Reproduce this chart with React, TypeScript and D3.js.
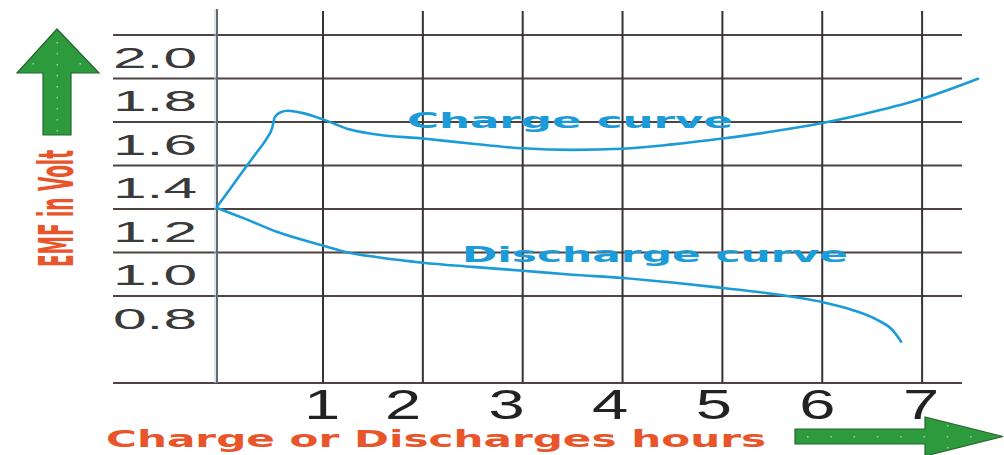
import React from 'react';
import * as d3 from 'd3';

// ---- data ----
const hourTicks = [1, 2, 3, 4, 5, 6, 7];
const gridHours = [0, 1, 2, 3, 4, 5, 6, 7];
const voltLabels = ['2.0', '1.8', '1.6', '1.4', '1.2', '1.0', '0.8'];
const voltLabelValues = [2.0, 1.8, 1.6, 1.4, 1.2, 1.0, 0.8];
const gridVolts = [2.1, 1.9, 1.7, 1.5, 1.3, 1.1, 0.9, 0.5];

const chargeHours = [0, 0.12, 0.24, 0.36, 0.47, 0.52, 0.545, 0.6, 0.67, 0.8, 1.0, 1.25, 1.5, 2.0, 2.5, 3.0, 3.5, 4.0, 4.5, 5.0, 5.5, 6.0, 6.5, 7.0, 7.56];
const chargeVolts = [1.31, 1.39, 1.471, 1.551, 1.625, 1.672, 1.722, 1.745, 1.752, 1.742, 1.712, 1.668, 1.645, 1.624, 1.6, 1.579, 1.572, 1.577, 1.597, 1.624, 1.656, 1.695, 1.746, 1.807, 1.899];

const dischargeHours = [0, 0.25, 0.57, 1.0, 1.25, 1.55, 2.0, 2.5, 3.0, 3.5, 4.0, 4.5, 5.0, 5.45, 6.0, 6.3, 6.55, 6.7, 6.79];
const dischargeVolts = [1.305, 1.258, 1.194, 1.132, 1.1, 1.078, 1.053, 1.034, 1.016, 0.998, 0.983, 0.962, 0.937, 0.913, 0.872, 0.836, 0.79, 0.745, 0.69];

const xTitle = 'Charge or Discharges hours';
const yTitle = 'EMF in Volt';
const chargeLabel = 'Charge curve';
const dischargeLabel = 'Discharge curve';

const BLUE = '#1b9bd8';
const ORANGE = '#e9552b';
const GREEN = '#2d9a3d';
const GREEN_DARK = '#25662e';
const GRID = '#4d4443';

export default function App() {
  const x = d3.scaleLinear().domain([0, 1, 7.6]).range([217, 323, 982]);
  const y = d3.scaleLinear().domain([0.5, 2.1]).range([383, 35]);
  const labelX = d3.scaleLinear().domain([1, 2, 7]).range([322, 403, 921]);

  const line = d3
    .line<[number, number]>()
    .x((d) => x(d[0]))
    .y((d) => y(d[1]))
    .curve(d3.curveMonotoneX);

  const charge = chargeHours.map((h, i) => [h, chargeVolts[i]] as [number, number]);
  const discharge = dischargeHours.map((h, i) => [h, dischargeVolts[i]] as [number, number]);

  const gridLeft = 113;
  const gridRight = 962;

  const upDots = d3.range(42, 132, 11);
  const rightDots = d3.range(807, 980, 23.3);

  return (
    <svg
      width={1004}
      height={455}
      style={{ position: 'absolute', left: 0, top: 0, background: '#fff' }}
    >
      <rect x={0} y={0} width={1004} height={455} fill="#fff" />
      {gridVolts.map((v) => (
        <line
          key={'h' + v}
          x1={gridLeft}
          x2={gridRight}
          y1={y(v)}
          y2={y(v)}
          stroke={GRID}
          strokeWidth={1.8}
        />
      ))}
      {gridHours.map((h) => (
        <line
          key={'v' + h}
          x1={x(h)}
          x2={x(h)}
          y1={h === 0 ? 9 : 11}
          y2={y(0.5)}
          stroke={h === 0 ? '#6d6868' : '#363333'}
          strokeWidth={2}
        />
      ))}
      <line x1={x(0) - 2} x2={x(0) - 2} y1={9} y2={y(0.5)} stroke="#a9cde3" strokeWidth={1} />

      {voltLabels.map((t, i) => (
        <text
          key={t}
          x={gridLeft}
          y={y(voltLabelValues[i]) + 11}
          fontFamily="'Liberation Sans', Arial, sans-serif"
          fontSize={29}
          fill="#3a3a3a"
          textLength={84}
          lengthAdjust="spacingAndGlyphs"
        >
          {t}
        </text>
      ))}

      {hourTicks.map((h) => (
        <text
          key={'x' + h}
          transform={`translate(${labelX(h)},419) scale(1.55,1)`}
          textAnchor="middle"
          fontFamily="'Liberation Sans', Arial, sans-serif"
          fontSize={42}
          fill="#222"
        >
          {h}
        </text>
      ))}

      <path d={line(charge) || ''} fill="none" stroke={BLUE} strokeWidth={2.6} strokeLinejoin="round" strokeLinecap="round" />
      <path d={line(discharge) || ''} fill="none" stroke={BLUE} strokeWidth={2.6} strokeLinejoin="round" strokeLinecap="round" />

      <text
        x={407}
        y={128}
        fontFamily="'DejaVu Sans', sans-serif"
        fontWeight="bold"
        fontSize={21}
        fill={BLUE}
        textLength={326}
        lengthAdjust="spacingAndGlyphs"
      >
        {chargeLabel}
      </text>
      <text
        x={462}
        y={262}
        fontFamily="'DejaVu Sans', sans-serif"
        fontWeight="bold"
        fontSize={21}
        fill={BLUE}
        textLength={386}
        lengthAdjust="spacingAndGlyphs"
      >
        {dischargeLabel}
      </text>

      <text
        x={106}
        y={447}
        fontFamily="'DejaVu Sans', sans-serif"
        fontWeight="bold"
        fontSize={23}
        fill={ORANGE}
        textLength={660}
        lengthAdjust="spacingAndGlyphs"
      >
        {xTitle}
      </text>

      <text
        transform="translate(73,208.5) scale(2.7,1) rotate(-90)"
        textAnchor="middle"
        fontFamily="'DejaVu Sans', sans-serif"
        fontWeight="bold"
        fontSize={18}
        fill={ORANGE}
        textLength={117}
        lengthAdjust="spacingAndGlyphs"
      >
        {yTitle}
      </text>

      <path
        d="M57,29 L99,73 L71,73 L71,135 L43,135 L43,73 L17,73 Z"
        fill={GREEN}
        stroke={GREEN_DARK}
        strokeWidth={1.2}
      />
      {upDots.map((d) => (
        <rect key={'ud' + d} x={56.5} y={d} width={1.5} height={1.5} fill="#9fd39f" />
      ))}
      <rect x={32.5} y={63} width={1.5} height={1.5} fill="#9fd39f" />
      <rect x={79.5} y={63} width={1.5} height={1.5} fill="#9fd39f" />

      <path
        d="M795,429 L925,429 L925,417 L1003,436.5 L925,456 L925,444 L795,444 Z"
        fill={GREEN}
        stroke={GREEN_DARK}
        strokeWidth={1.2}
      />
      {rightDots.map((d) => (
        <rect key={'rd' + d} x={d} y={436} width={1.5} height={1.5} fill="#9fd39f" />
      ))}
      <rect x={947} y={425} width={1.5} height={1.5} fill="#9fd39f" />
      <rect x={947} y={447} width={1.5} height={1.5} fill="#9fd39f" />
    </svg>
  );
}
